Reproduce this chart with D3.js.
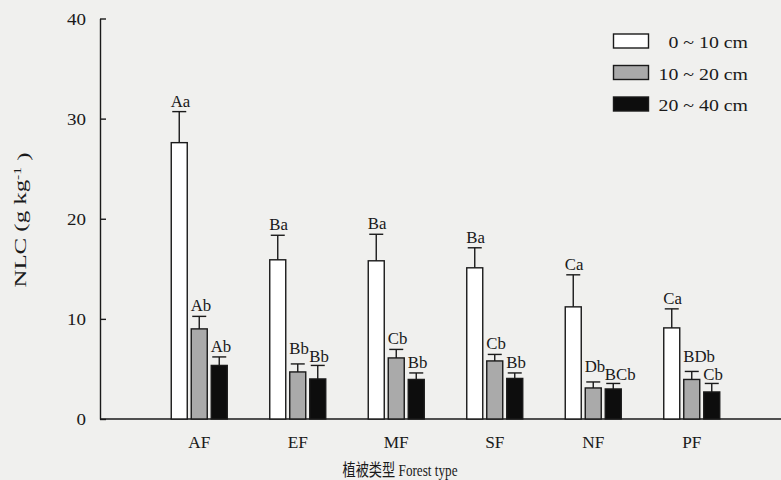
<!DOCTYPE html>
<html>
<head>
<meta charset="utf-8">
<script src="https://cdn.jsdelivr.net/npm/d3@7"></script>
<style>
  html, body { margin: 0; padding: 0; background: #f0f0ee; }
  svg { display: block; }
  text { font-family: "Liberation Serif", "Times New Roman", serif; fill: #1a1a1a; }
</style>
</head>
<body>
<svg id="chart" width="781" height="480"></svg>
<script>
// Forest types along the x axis
const categories = ["AF", "EF", "MF", "SF", "NF", "PF"];
// Soil depth layers
const depths = ["0 ~ 10 cm", "10 ~ 20 cm", "20 ~ 40 cm"];
// Mean NLC (g kg-1) per depth layer
const nlc0to10 = [27.6, 15.9, 15.8, 15.1, 11.2, 9.1];
const nlc10to20 = [9.0, 4.7, 6.1, 5.8, 3.1, 3.95];
const nlc20to40 = [5.35, 4.0, 3.95, 4.05, 3.0, 2.7];
// Standard errors
const se0to10 = [3.1, 2.45, 2.65, 2.0, 3.2, 1.9];
const se10to20 = [1.25, 0.8, 0.85, 0.65, 0.6, 0.8];
const se20to40 = [0.85, 1.35, 0.65, 0.55, 0.55, 0.85];
// Significance letters
const sig0to10 = ["Aa", "Ba", "Ba", "Ba", "Ca", "Ca"];
const sig10to20 = ["Ab", "Bb", "Cb", "Cb", "Db", "BDb"];
const sig20to40 = ["Ab", "Bb", "Bb", "Bb", "BCb", "Cb"];
// Y axis ticks
const yTicks = [0, 10, 20, 30, 40];

const means = [nlc0to10, nlc10to20, nlc20to40];
const errs = [se0to10, se10to20, se20to40];
const sigs = [sig0to10, sig10to20, sig20to40];
const fills = ["#ffffff", "#aaaaaa", "#0d0d0d"];
const ink = "#1a1a1a";

const rows = [];
categories.forEach((c, i) => {
  depths.forEach((d, j) => {
    rows.push({ cat: c, i, depth: d, j, v: means[j][i], e: errs[j][i], s: sigs[j][i] });
  });
});

const svg = d3.select("#chart");
const axisX = 100, baseY = 419, topY = 18.5;

const y = d3.scaleLinear().domain([0, 40]).range([baseY, topY]);
const x = d3.scaleBand().domain(categories).range([150, 741]).padding(0);
const xi = d3.scaleBand().domain(depths).range([0, 60]).paddingInner(0.2).paddingOuter(0.1);
const groupOffset = x.bandwidth() / 2 - 30;
const barLeft = d => x(d.cat) + groupOffset + xi(d.depth);
const barMid = d => barLeft(d) + xi.bandwidth() / 2;

// y axis with inward ticks
const yAxis = svg.append("g")
  .attr("transform", `translate(${axisX},0)`)
  .call(d3.axisLeft(y).tickValues(yTicks).tickSize(-6).tickSizeOuter(0).tickFormat(d3.format("d")));
yAxis.select(".domain").attr("stroke", ink).attr("stroke-width", 1.4);
yAxis.selectAll(".tick line").attr("stroke", ink).attr("stroke-width", 1.4);
yAxis.selectAll(".tick text")
  .attr("x", 0).attr("dy", "0.34em")
  .attr("transform", "translate(-14,0) scale(1.12,1)")
  .style("font-family", "Liberation Serif").style("font-size", "17px").attr("fill", ink);

// x axis baseline
svg.append("line")
  .attr("x1", axisX).attr("x2", 781).attr("y1", baseY).attr("y2", baseY)
  .attr("stroke", ink).attr("stroke-width", 1.4);

// category labels
svg.append("g").selectAll("text").data(categories).join("text")
  .attr("transform", d => `translate(${x(d) + x.bandwidth() / 2},448) scale(1.08,1)`)
  .attr("text-anchor", "middle").style("font-size", "16px").text(d => d);

// bars
svg.append("g").selectAll("rect").data(rows).join("rect")
  .attr("x", barLeft).attr("width", xi.bandwidth())
  .attr("y", d => y(d.v)).attr("height", d => y(0) - y(d.v))
  .attr("fill", d => fills[d.j]).attr("stroke", ink).attr("stroke-width", 1.4);

// error bars (upper whisker only)
const eb = svg.append("g").attr("stroke", ink).attr("stroke-width", 1.4);
eb.selectAll("line.v").data(rows).join("line").attr("class", "v")
  .attr("x1", barMid).attr("x2", barMid)
  .attr("y1", d => y(d.v)).attr("y2", d => y(d.v + d.e));
eb.selectAll("line.c").data(rows).join("line").attr("class", "c")
  .attr("x1", d => barMid(d) - 7).attr("x2", d => barMid(d) + 7)
  .attr("y1", d => y(d.v + d.e)).attr("y2", d => y(d.v + d.e));

// significance letters, left-aligned on each bar
const labelScale = 1.05;
const labels = svg.append("g").selectAll("text").data(rows).join("text")
  .attr("text-anchor", "start").style("font-size", "16px").text(d => d.s);
labels.each(function (d) {
  d.lx = barLeft(d) - 0.5;
  d.lw = this.getComputedTextLength() * labelScale;
  d.ly = y(d.v + d.e) - 5;
});
// lift the 10-20 cm letters when they would run into the 20-40 cm letters
categories.forEach((c, i) => {
  const mid = rows.find(r => r.i === i && r.j === 1);
  const low = rows.find(r => r.i === i && r.j === 2);
  if (mid.lx + mid.lw > low.lx - 1 && mid.ly > low.ly - 16) {
    low.ly = y(low.v + low.e) - 3.5;
    mid.ly = Math.min(mid.ly - 4, low.ly - 8);
  }
});
labels.attr("transform", d => `translate(${d.lx},${d.ly}) scale(${labelScale},1)`);

// y axis title
const yTitle = svg.append("text")
  .attr("transform", "translate(26,220) rotate(-90)")
  .attr("text-anchor", "middle").style("font-size", "16px")
  .attr("textLength", 135).attr("lengthAdjust", "spacingAndGlyphs");
yTitle.append("tspan").text("NLC (g kg");
yTitle.append("tspan").attr("dy", "-0.5em").style("font-size", "10px").text("-1");
yTitle.append("tspan").attr("dy", "0.5em").text(" )");

// x axis title (condensed horizontally)
svg.append("text")
  .attr("transform", "translate(400,476) scale(0.8,1)")
  .attr("text-anchor", "middle")
  .style("font-family", "'Liberation Serif', 'Noto Sans CJK SC', serif")
  .style("font-size", "16.5px")
  .text("植被类型 Forest type");

// legend
const lg = svg.append("g").selectAll("g").data(depths).join("g")
  .attr("transform", (d, i) => `translate(0,${48 + i * 31.5})`);
lg.append("rect").attr("x", 613.5).attr("y", -14).attr("width", 35).attr("height", 14)
  .attr("fill", (d, i) => fills[i]).attr("stroke", ink).attr("stroke-width", 1.4);
lg.append("text")
  .attr("transform", "translate(748,0) scale(1.24,1)")
  .attr("text-anchor", "end").style("font-size", "16px").text(d => d);
</script>
</body>
</html>
